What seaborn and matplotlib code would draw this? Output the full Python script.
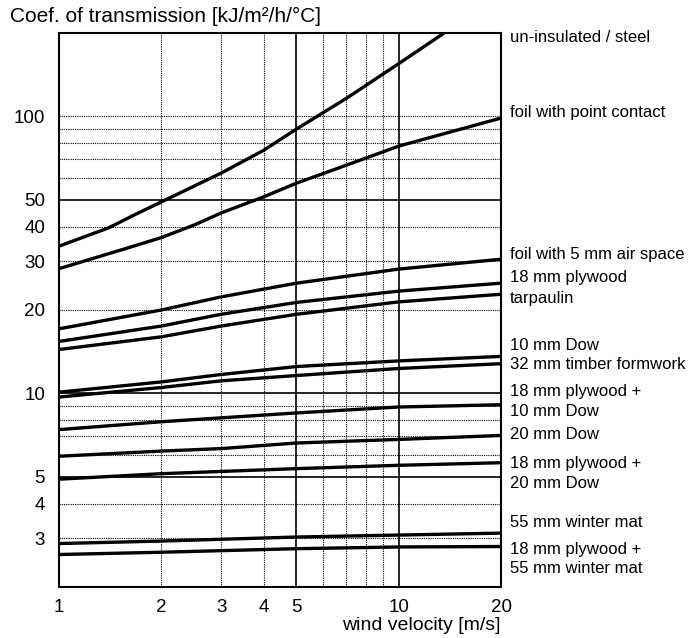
import pandas as pd
import matplotlib
matplotlib.use('Agg')
import matplotlib.pyplot as plt
import seaborn as sns

# Curves: wind velocity [m/s] -> coefficient of transmission
NAMES = ['un-insulated / steel', 'foil with point contact', 'foil with 5 mm air space',
         '18 mm plywood', 'tarpaulin', '10 mm Dow', '32 mm timber formwork',
         '18 mm plywood + 10 mm Dow', '20 mm Dow', '18 mm plywood + 20 mm Dow',
         '55 mm winter mat', '18 mm plywood + 55 mm winter mat']

steel_x = [1, 1.4, 1.68, 2, 3, 4, 5, 7, 10, 13.6]
steel_y = [34, 39.6, 44.3, 49.1, 62.4, 75.4, 90, 116, 155, 200]
point_x = [1, 1.53, 2, 2.52, 3, 4, 5, 7, 10, 20]
point_y = [28.2, 33.0, 36.5, 40.7, 44.8, 51.2, 57.4, 66.6, 78.1, 98.6]
x6 = [1, 2, 3, 5, 10, 20]
x5 = [1, 2, 5, 10, 20]
foil5_y = [17.1, 20.0, 22.3, 25.0, 28.1, 30.5]
plywood_y = [15.4, 17.5, 19.3, 21.3, 23.4, 25.0]
tarp_y = [14.4, 16.0, 17.5, 19.3, 21.4, 22.8]
dow10_y = [10.1, 11.0, 11.7, 12.5, 13.1, 13.6]
timber_y = [9.7, 10.5, 11.1, 11.6, 12.3, 12.8]
ply_dow10_y = [7.4, 7.9, 8.5, 8.93, 9.1]
dow20_y = [5.93, 6.19, 6.32, 6.62, 6.82, 7.05]
ply_dow20_y = [4.9, 5.13, 5.35, 5.5, 5.62]
mat_y = [2.87, 2.93, 3.03, 3.08, 3.13]
ply_mat_y = [2.62, 2.67, 2.75, 2.79, 2.8]

XS = [steel_x, point_x, x6, x6, x6, x6, x6, x5, x6, x5, x5, x5]
YS = [steel_y, point_y, foil5_y, plywood_y, tarp_y, dow10_y, timber_y,
      ply_dow10_y, dow20_y, ply_dow20_y, mat_y, ply_mat_y]

# right-hand labels (text, value on the y axis where the text sits)
LABELS = ['un-insulated / steel', 'foil with point contact', 'foil with 5 mm air space',
          '18 mm plywood', 'tarpaulin', '10 mm Dow', '32 mm timber formwork',
          '18 mm plywood +', '10 mm Dow', '20 mm Dow', '18 mm plywood +', '20 mm Dow',
          '55 mm winter mat', '18 mm plywood +', '55 mm winter mat']
LABEL_Y = [193, 103, 31.8, 26.2, 22.0, 14.9, 12.7, 10.2, 8.6, 7.1, 5.59, 4.73,
           3.42, 2.73, 2.33]

XTICKS = [1, 2, 3, 4, 5, 10, 20]
YTICKS = [3, 4, 5, 10, 20, 30, 40, 50, 100]
X_SOLID = [5, 10]
X_DOTTED = [2, 3, 4, 6, 7, 8, 9]
Y_SOLID = [5, 10, 50]
Y_DOTTED = [3, 4, 6, 7, 8, 9, 20, 30, 40, 60, 70, 80, 90, 100]

rows = []
for name, xs, ys in zip(NAMES, XS, YS):
    for x, y in zip(xs, ys):
        rows.append({'curve': name, 'wind': x, 'coef': y})
df = pd.DataFrame(rows)

sns.set_theme(style='white')
plt.rcParams['font.family'] = ['Liberation Sans', 'DejaVu Sans']

fig = plt.figure(figsize=(6.93, 6.38), dpi=100)
ax = fig.add_axes([59 / 693, 51 / 638, 442 / 693, 554 / 638])

# grid: dotted minor lines, solid lines at 5, 10 (x) and 5, 10, 50 (y)
for v in X_DOTTED:
    ax.axvline(v, color='black', lw=0.8, ls=(0, (1, 1)), zorder=1)
for v in X_SOLID:
    ax.axvline(v, color='black', lw=1.2, zorder=1)
for v in Y_DOTTED:
    ax.axhline(v, color='black', lw=0.8, ls=(0, (1, 1)), zorder=1)
for v in Y_SOLID:
    ax.axhline(v, color='black', lw=1.2, zorder=1)

sns.lineplot(data=df, x='wind', y='coef', hue='curve', palette=['black'] * len(NAMES),
             estimator=None, legend=False, lw=2.4, ax=ax, zorder=3)

ax.set_xscale('log')
ax.set_yscale('log')
ax.set_xlim(1, 20)
ax.set_ylim(2, 200)
ax.set_xticks(XTICKS)
ax.set_xticklabels([str(t) for t in XTICKS])
ax.set_yticks(YTICKS)
ax.set_yticklabels([str(t) for t in YTICKS])
ax.minorticks_off()
ax.tick_params(axis='both', length=0, labelsize=13.5, colors='black')
ax.tick_params(axis='x', pad=9)
ax.tick_params(axis='y', pad=10)
for s in ax.spines.values():
    s.set_color('black')
    s.set_linewidth(1.5)

ax.set_xlabel('wind velocity [m/s]', loc='right', fontsize=14, labelpad=0, color='black')
ax.set_ylabel('')

for text, y in zip(LABELS, LABEL_Y):
    ax.text(1.02, y, text, transform=ax.get_yaxis_transform(), ha='left', va='center',
            fontsize=12, color='black', clip_on=False)

fig.text(10 / 693, 1 - 16 / 638, 'Coef. of transmission [kJ/m²/h/°C]', ha='left', va='center',
         fontsize=15, color='black')

fig.savefig('out.png', dpi=100)
plt.close(fig)
